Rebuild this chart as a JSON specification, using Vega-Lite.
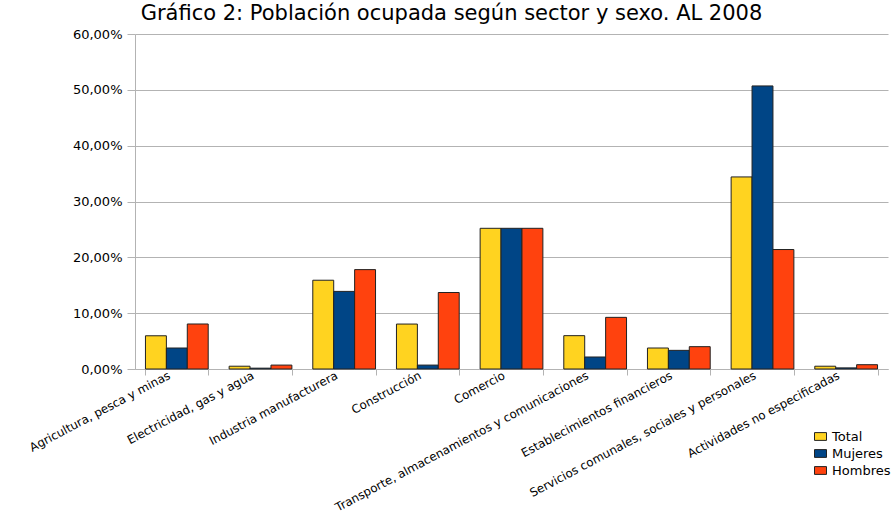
{
  "$schema": "https://vega.github.io/schema/vega-lite/v6.json",
  "width": 753,
  "height": 335,
  "autosize": "none",
  "padding": {"left": 135, "top": 34, "right": 5, "bottom": 150},
  "background": "white",
  "title": {
    "text": "Gráfico 2: Población ocupada según sector y sexo. AL 2008",
    "font": "DejaVu Sans",
    "fontSize": 21,
    "fontWeight": "normal",
    "color": "#000000",
    "anchor": "middle",
    "baseline": "alphabetic",
    "dx": -60,
    "dy": 23,
    "offset": 10
  },
  "data": {
    "values": [
      {"sector": "Agricultura, pesca y minas", "sexo": "Total", "valor": 0.0595},
      {"sector": "Agricultura, pesca y minas", "sexo": "Mujeres", "valor": 0.0376},
      {"sector": "Agricultura, pesca y minas", "sexo": "Hombres", "valor": 0.0806},
      {"sector": "Electricidad, gas y agua", "sexo": "Total", "valor": 0.005},
      {"sector": "Electricidad, gas y agua", "sexo": "Mujeres", "valor": 0.0015},
      {"sector": "Electricidad, gas y agua", "sexo": "Hombres", "valor": 0.007},
      {"sector": "Industria manufacturera", "sexo": "Total", "valor": 0.159},
      {"sector": "Industria manufacturera", "sexo": "Mujeres", "valor": 0.139},
      {"sector": "Industria manufacturera", "sexo": "Hombres", "valor": 0.178},
      {"sector": "Construcción", "sexo": "Total", "valor": 0.0805},
      {"sector": "Construcción", "sexo": "Mujeres", "valor": 0.007},
      {"sector": "Construcción", "sexo": "Hombres", "valor": 0.137},
      {"sector": "Comercio", "sexo": "Total", "valor": 0.252},
      {"sector": "Comercio", "sexo": "Mujeres", "valor": 0.252},
      {"sector": "Comercio", "sexo": "Hombres", "valor": 0.252},
      {"sector": "Transporte, almacenamientos y comunicaciones", "sexo": "Total", "valor": 0.0597},
      {"sector": "Transporte, almacenamientos y comunicaciones", "sexo": "Mujeres", "valor": 0.0215},
      {"sector": "Transporte, almacenamientos y comunicaciones", "sexo": "Hombres", "valor": 0.0925},
      {"sector": "Establecimientos financieros", "sexo": "Total", "valor": 0.0376},
      {"sector": "Establecimientos financieros", "sexo": "Mujeres", "valor": 0.0334},
      {"sector": "Establecimientos financieros", "sexo": "Hombres", "valor": 0.04},
      {"sector": "Servicios comunales, sociales y personales", "sexo": "Total", "valor": 0.344},
      {"sector": "Servicios comunales, sociales y personales", "sexo": "Mujeres", "valor": 0.507},
      {"sector": "Servicios comunales, sociales y personales", "sexo": "Hombres", "valor": 0.214},
      {"sector": "Actividades no especificadas", "sexo": "Total", "valor": 0.005},
      {"sector": "Actividades no especificadas", "sexo": "Mujeres", "valor": 0.002},
      {"sector": "Actividades no especificadas", "sexo": "Hombres", "valor": 0.0077}
    ]
  },
  "mark": {"type": "bar", "stroke": "#222222", "strokeWidth": 1},
  "encoding": {
    "x": {
      "field": "sector",
      "type": "nominal",
      "sort": null,
      "scale": {"paddingInner": 0.25, "paddingOuter": 0.125},
      "axis": {
        "title": null,
        "labelAngle": -28,
        "labelAlign": "right",
        "labelBaseline": "middle",
        "tickBand": "extent",
        "labelFont": "DejaVu Sans",
        "labelFontSize": 11.8,
        "labelColor": "#000000",
        "labelLimit": 400,
        "labelPadding": -1,
        "labelOffset": -8,
        "domainColor": "#b3b3b3",
        "tickColor": "#b3b3b3",
        "tickSize": 6
      }
    },
    "y": {
      "field": "valor",
      "type": "quantitative",
      "scale": {"domain": [0, 0.6]},
      "axis": {
        "title": null,
        "values": [0, 0.1, 0.2, 0.3, 0.4, 0.5, 0.6],
        "labelExpr": "replace(format(datum.value, '.2%'), '.', ',')",
        "labelFont": "DejaVu Sans",
        "labelFontSize": 13,
        "labelColor": "#000000",
        "labelPadding": 5,
        "grid": true,
        "gridColor": "#b3b3b3",
        "domainColor": "#b3b3b3",
        "tickColor": "#b3b3b3",
        "tickSize": 8
      }
    },
    "xOffset": {"field": "sexo", "sort": ["Total", "Mujeres", "Hombres"]},
    "color": {
      "field": "sexo",
      "type": "nominal",
      "scale": {"domain": ["Total", "Mujeres", "Hombres"], "range": ["#ffd320", "#004586", "#ff420e"]},
      "legend": {
        "title": null,
        "orient": "none",
        "legendX": 679,
        "legendY": 396,
        "padding": 0,
        "symbolType": "M-1,-0.65H1V0.65H-1Z",
        "symbolSize": 144,
        "symbolStrokeColor": "#222222",
        "symbolStrokeWidth": 1,
        "symbolOpacity": 1,
        "labelFont": "DejaVu Sans",
        "labelFontSize": 13,
        "labelColor": "#000000",
        "labelOffset": 5,
        "rowPadding": 3
      }
    }
  },
  "config": {"view": {"stroke": null}}
}
